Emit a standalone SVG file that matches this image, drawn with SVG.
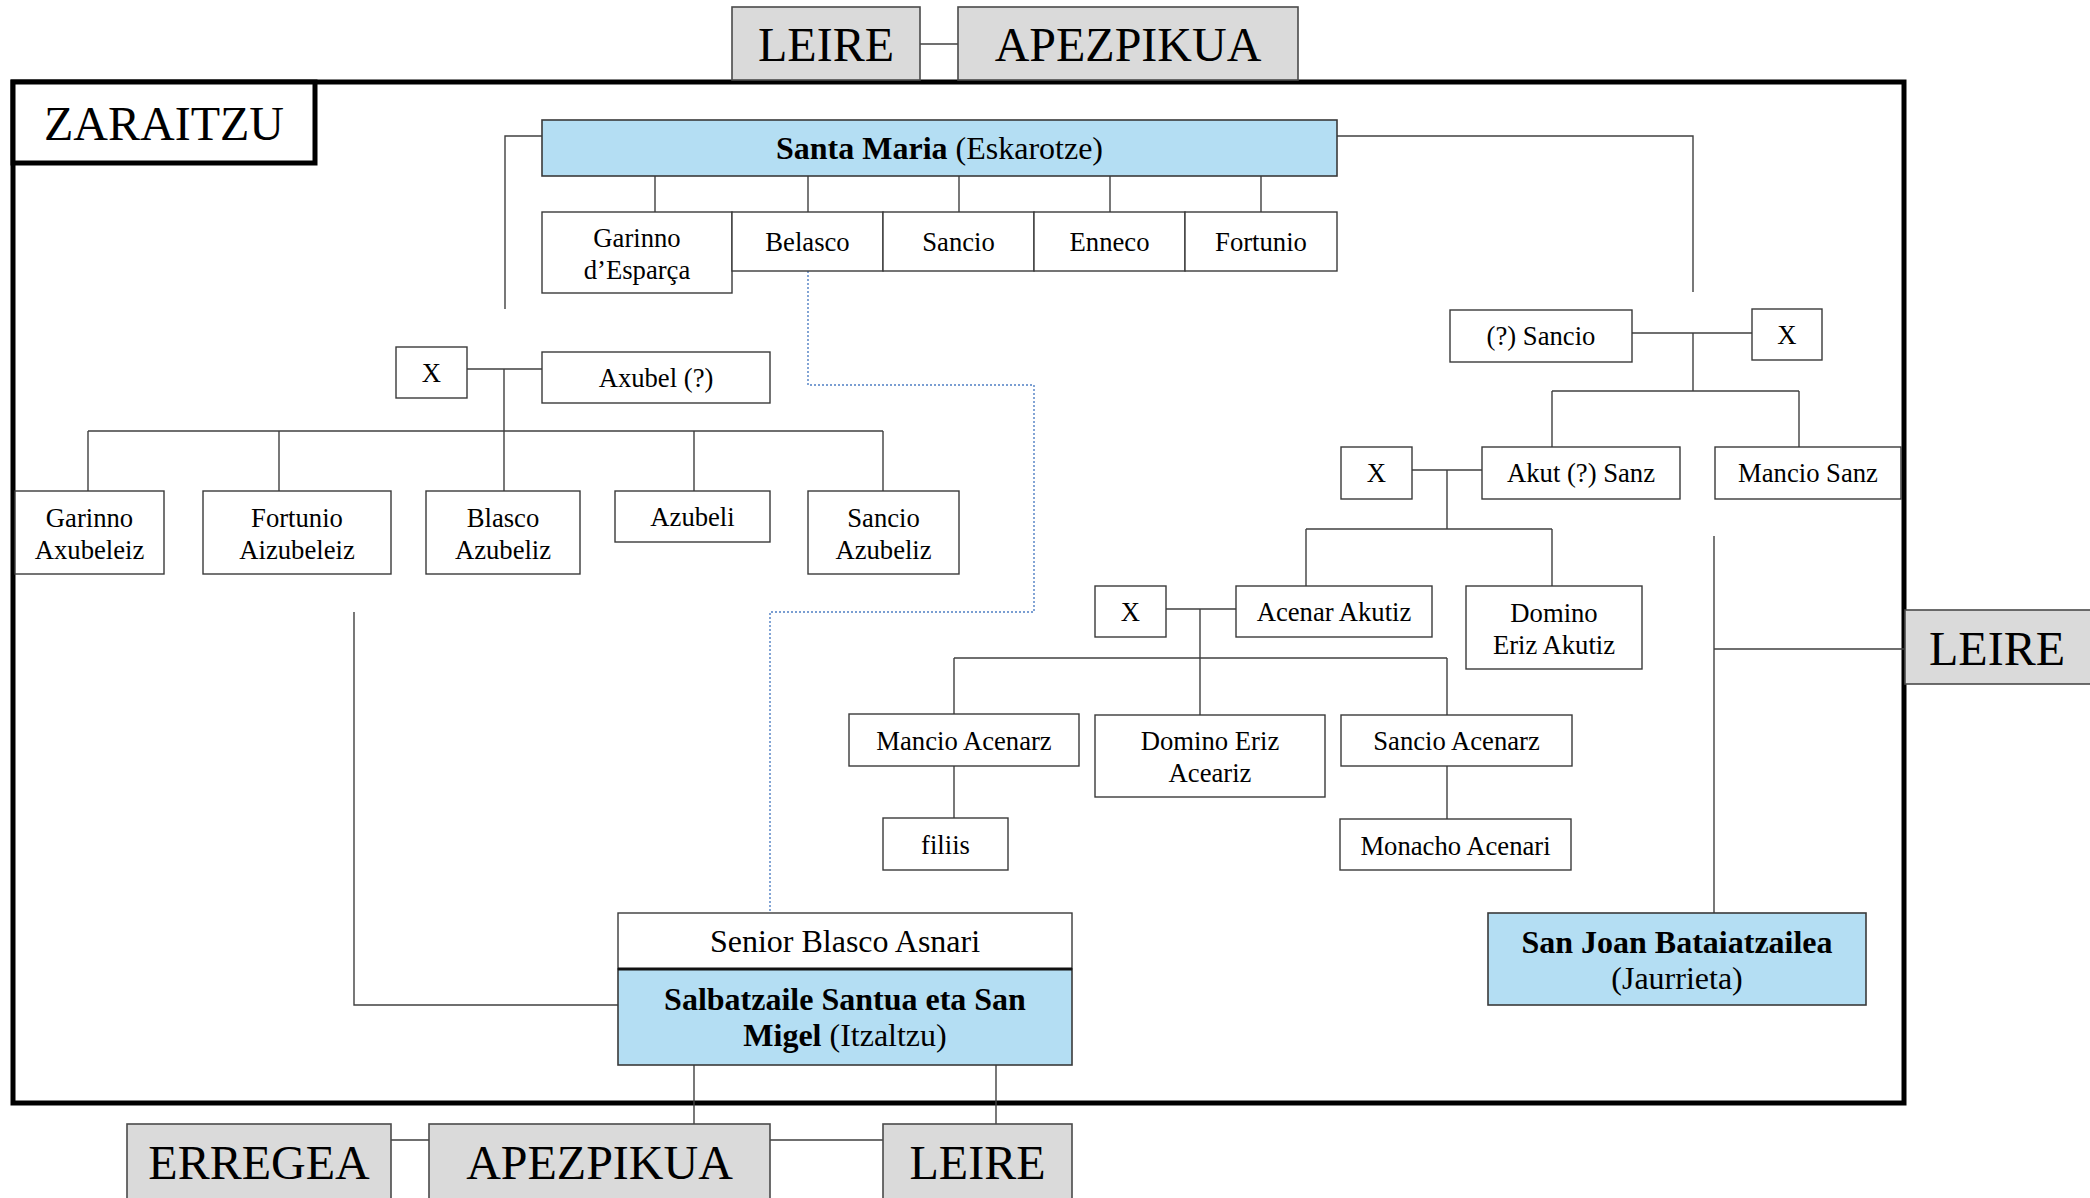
<svg xmlns="http://www.w3.org/2000/svg" width="2090" height="1198" viewBox="0 0 2090 1198">
<style>
text{font-family:"Liberation Serif","Times New Roman",serif;fill:#000;text-anchor:middle}
.n{font-size:26.67px}
.t{font-size:32px}
.b{font-weight:bold}
.big{font-size:48px}
.box{fill:#fff;stroke:#3a3a3a;stroke-width:1.4}
.blue{fill:#b4def3;stroke:#3a3a3a;stroke-width:1.6}
.gray{fill:#dadada;stroke:#4a4a4a;stroke-width:1.6}
.c{fill:none;stroke:#404040;stroke-width:1.4}
.d{fill:none;stroke:#4f7fc4;stroke-width:1.4;stroke-dasharray:2 2}
</style>
<rect width="2090" height="1198" fill="#fff"/>
<rect id="frame" x="13" y="82" width="1891" height="1021" fill="none" stroke="#000" stroke-width="5"/>
<g id="connectors">
<path class="c" d="M920 44H958"/>
<path class="c" d="M655 176V212M808 176V212M959 176V212M1110 176V212M1261 176V212"/>
<path class="c" d="M542 136H505V309"/>
<path class="c" d="M1337 136H1693V292"/>
<path class="d" d="M808 271V385H1034V612H770V913"/>
<path class="c" d="M467 369H542M504 369V431M88 431H883M88 431V491M279 431V491M504 431V491M694 431V491M883 431V491"/>
<path class="c" d="M1632 333H1752M1693 333V391M1552 391H1799M1552 391V447M1799 391V447"/>
<path class="c" d="M1412 470H1482M1447 470V529M1306 529H1552M1306 529V586M1552 529V586"/>
<path class="c" d="M1166 609H1236M1200 609V715M954 658H1447M954 658V714M1447 658V715M954 766V818M1447 766V819"/>
<path class="c" d="M354 612V1005H618"/>
<path class="c" d="M1714 536V913M1714 649H1904"/>
<path class="c" d="M694 1065V1124M996 1065V1124M391 1140H429M770 1140H883"/>
</g>
<g id="zaraitzu"><rect x="13" y="82" width="302" height="81" fill="#fff" stroke="#000" stroke-width="5"/><text class="big" x="164" y="140">ZARAITZU</text></g>
<g id="leire-top"><rect class="gray" x="732" y="7" width="188" height="73"/><text class="big" x="826" y="61">LEIRE</text></g>
<g id="apezpikua-top"><rect class="gray" x="958" y="7" width="340" height="73"/><text class="big" x="1128" y="61">APEZPIKUA</text></g>
<g id="santa-maria"><rect class="blue" x="542" y="120" width="795" height="56"/><text class="t" x="939.5" y="159"><tspan class="b">Santa Maria</tspan> (Eskarotze)</text></g>
<g id="garinno-esparca"><rect class="box" x="542" y="212" width="190" height="81"/><text class="n" x="637" y="247">Garinno</text><text class="n" x="637" y="279">d’Esparça</text></g>
<g id="belasco"><rect class="box" x="732" y="212" width="151" height="59"/><text class="n" x="807.5" y="251">Belasco</text></g>
<g id="sancio"><rect class="box" x="883" y="212" width="151" height="59"/><text class="n" x="958.5" y="251">Sancio</text></g>
<g id="enneco"><rect class="box" x="1034" y="212" width="151" height="59"/><text class="n" x="1109.5" y="251">Enneco</text></g>
<g id="fortunio"><rect class="box" x="1185" y="212" width="152" height="59"/><text class="n" x="1261" y="251">Fortunio</text></g>
<g id="x1"><rect class="box" x="396" y="347" width="71" height="51"/><text class="n" x="431.5" y="382">X</text></g>
<g id="axubel"><rect class="box" x="542" y="352" width="228" height="51"/><text class="n" x="656" y="387">Axubel (?)</text></g>
<g id="garinno-axubeleiz"><rect class="box" x="15" y="491" width="149" height="83"/><text class="n" x="89.5" y="527">Garinno</text><text class="n" x="89.5" y="559">Axubeleiz</text></g>
<g id="fortunio-aizubeleiz"><rect class="box" x="203" y="491" width="188" height="83"/><text class="n" x="297" y="527">Fortunio</text><text class="n" x="297" y="559">Aizubeleiz</text></g>
<g id="blasco-azubeliz"><rect class="box" x="426" y="491" width="154" height="83"/><text class="n" x="503" y="527">Blasco</text><text class="n" x="503" y="559">Azubeliz</text></g>
<g id="azubeli"><rect class="box" x="615" y="491" width="155" height="51"/><text class="n" x="692.5" y="526">Azubeli</text></g>
<g id="sancio-azubeliz"><rect class="box" x="808" y="491" width="151" height="83"/><text class="n" x="883.5" y="527">Sancio</text><text class="n" x="883.5" y="559">Azubeliz</text></g>
<g id="q-sancio"><rect class="box" x="1450" y="310" width="182" height="52"/><text class="n" x="1541" y="345">(?) Sancio</text></g>
<g id="x2"><rect class="box" x="1752" y="309" width="70" height="51"/><text class="n" x="1787" y="344">X</text></g>
<g id="x3"><rect class="box" x="1341" y="447" width="71" height="52"/><text class="n" x="1376.5" y="482">X</text></g>
<g id="akut-sanz"><rect class="box" x="1482" y="447" width="198" height="52"/><text class="n" x="1581" y="482">Akut (?) Sanz</text></g>
<g id="mancio-sanz"><rect class="box" x="1715" y="447" width="186" height="52"/><text class="n" x="1808" y="482">Mancio Sanz</text></g>
<g id="x4"><rect class="box" x="1095" y="586" width="71" height="51"/><text class="n" x="1130.5" y="621">X</text></g>
<g id="acenar-akutiz"><rect class="box" x="1236" y="586" width="196" height="51"/><text class="n" x="1334" y="621">Acenar Akutiz</text></g>
<g id="domino-eriz-akutiz"><rect class="box" x="1466" y="586" width="176" height="83"/><text class="n" x="1554" y="622">Domino</text><text class="n" x="1554" y="654">Eriz Akutiz</text></g>
<g id="mancio-acenarz"><rect class="box" x="849" y="714" width="230" height="52"/><text class="n" x="964" y="750">Mancio Acenarz</text></g>
<g id="domino-eriz-aceariz"><rect class="box" x="1095" y="715" width="230" height="82"/><text class="n" x="1210" y="750">Domino Eriz</text><text class="n" x="1210" y="782">Aceariz</text></g>
<g id="sancio-acenarz"><rect class="box" x="1341" y="715" width="231" height="51"/><text class="n" x="1456.5" y="750">Sancio Acenarz</text></g>
<g id="filiis"><rect class="box" x="883" y="818" width="125" height="52"/><text class="n" x="945.5" y="854">filiis</text></g>
<g id="monacho-acenari"><rect class="box" x="1340" y="819" width="231" height="51"/><text class="n" x="1455.5" y="855">Monacho Acenari</text></g>
<g id="senior-blasco"><rect class="box" x="618" y="913" width="454" height="56"/><text class="t" x="845" y="952">Senior Blasco Asnari</text></g>
<g id="salbatzaile"><rect class="blue" x="618" y="969" width="454" height="96"/><line x1="618" y1="969" x2="1072" y2="969" stroke="#111" stroke-width="3"/><text class="t b" x="845" y="1010">Salbatzaile Santua eta San</text><text class="t" x="845" y="1046"><tspan class="b">Migel</tspan> (Itzaltzu)</text></g>
<g id="san-joan"><rect class="blue" x="1488" y="913" width="378" height="92"/><text class="t b" x="1677" y="953">San Joan Bataiatzailea</text><text class="t" x="1677" y="989">(Jaurrieta)</text></g>
<g id="leire-right"><rect class="gray" x="1905" y="610" width="195" height="74"/><text class="big" x="1997" y="665">LEIRE</text></g>
<g id="erregea"><rect class="gray" x="127" y="1124" width="264" height="85"/><text class="big" x="259" y="1179">ERREGEA</text></g>
<g id="apezpikua-bottom"><rect class="gray" x="429" y="1124" width="341" height="85"/><text class="big" x="599.5" y="1179">APEZPIKUA</text></g>
<g id="leire-bottom"><rect class="gray" x="883" y="1124" width="189" height="85"/><text class="big" x="977.5" y="1179">LEIRE</text></g>
</svg>
